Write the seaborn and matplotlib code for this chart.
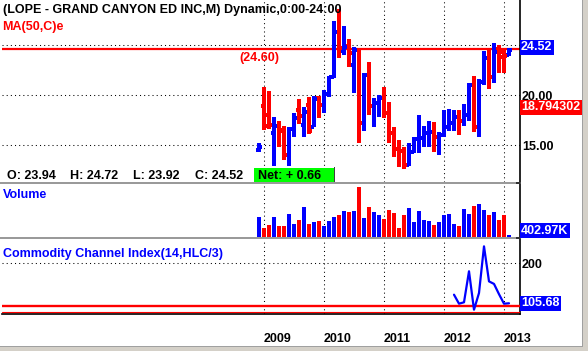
import numpy as np
import pandas as pd
import matplotlib
matplotlib.use("Agg")
import matplotlib.pyplot as plt
import seaborn as sns
from matplotlib.patches import Rectangle

# ---------------- data ----------------
months = pd.date_range("2008-12-01", periods=51, freq="MS")
opens = [14.5, 18.9, 18.0, 16.2, 16.9, 16.5, 14.0, 16.6, 18.5, 17.0,
         19.0, 16.8, 19.7, 19.0, 20.1, 21.8, 26.3, 24.4, 24.9, 23.0,
         24.5, 17.2, 22.0, 18.9, 19.2, 19.7, 18.2, 16.2, 14.6, 14.4,
         13.0, 14.3, 15.6, 15.7, 16.2, 16.3, 15.8, 16.0, 16.8, 17.2,
         17.8, 17.4, 18.0, 21.0, 16.8, 21.3, 23.7, 21.8, 24.6, 24.3, 23.94]
highs = [15.2, 20.8, 20.4, 17.8, 17.4, 16.9, 16.8, 18.2, 19.6, 18.8,
         19.8, 19.9, 19.9, 20.5, 21.9, 27.4, 28.5, 26.9, 25.6, 24.8,
         24.7, 22.2, 23.3, 19.7, 20.0, 20.8, 19.3, 16.8, 15.5, 14.8,
         15.2, 15.8, 18.0, 16.9, 17.4, 17.3, 16.3, 18.5, 18.6, 18.5,
         18.5, 19.1, 21.2, 21.9, 21.6, 24.4, 24.6, 25.2, 25.0, 24.6, 24.72]
lows = [14.3, 16.5, 16.6, 12.9, 14.8, 13.5, 12.9, 15.8, 17.1, 15.8,
        16.1, 16.8, 17.7, 18.2, 19.8, 21.7, 23.7, 24.0, 22.8, 20.2,
        15.2, 16.4, 18.0, 16.8, 17.8, 17.7, 15.2, 13.8, 12.8, 12.6,
        12.9, 14.2, 14.2, 14.8, 14.8, 14.3, 14.0, 15.8, 16.4, 16.4,
        16.0, 16.9, 17.4, 16.3, 15.8, 21.0, 20.6, 21.2, 22.2, 22.2, 23.92]
closes = [14.8, 16.9, 17.0, 16.9, 16.4, 14.0, 16.6, 17.7, 17.9, 18.3,
          16.4, 19.6, 19.0, 20.1, 21.8, 26.3, 24.7, 24.8, 24.2, 24.5,
          17.2, 22.0, 18.9, 19.2, 19.7, 18.2, 16.2, 14.6, 14.4, 13.0,
          14.3, 15.6, 15.7, 16.2, 16.3, 15.8, 16.0, 16.8, 17.2, 17.8,
          17.4, 18.0, 21.0, 16.8, 21.3, 23.7, 21.8, 24.3, 23.8, 23.86, 24.52]
volume_m = [4.0, 1.8, 2.3, 4.0, 2.2, 2.2, 4.6, 2.6, 3.3, 6.0,
            2.6, 3.0, 3.2, 2.2, 3.2, 4.0, 4.4, 5.2, 5.0, 5.2,
            10.0, 3.8, 6.0, 5.0, 4.4, 3.6, 5.3, 4.7, 1.8, 4.3,
            5.8, 3.0, 5.2, 3.4, 3.2, 2.3, 3.0, 4.4, 4.6, 2.6,
            2.2, 5.6, 4.6, 6.2, 6.6, 5.4, 4.4, 5.0, 3.4, 4.4, 0.403]
cci = [np.nan] * 39 + [125.8, 104.7, 108.0, 180.6, 90.6, 129.7,
                       239.0, 157.0, 151.0, 127.0, 104.7, 105.68]
price_ticks = [15, 20, 25]
cci_ticks = [200]
hline_level = 24.60
ma_value = 18.794302
last_volume_label = "402.97K"
cci_levels = [100, 85]

title = "(LOPE - GRAND CANYON ED INC,M) Dynamic,0:00-24:00"
ma_label = "MA(50,C)e"
info_items = ["O: 23.94", "H: 24.72", "L: 23.92", "C: 24.52"]
net_label = "Net: + 0.66"

BLUE, RED, GREEN = "#0000ff", "#ff0000", "#00ff00"

# ---------------- style ----------------
sns.set_style("white")
plt.rcParams['font.family'] = ['Liberation Sans', 'DejaVu Sans']
plt.rcParams['font.weight'] = 'bold'
FS = 9

W, H = 588, 351
fig = plt.figure(figsize=(W / 100, H / 100), dpi=100)
fig.patch.set_facecolor("white")


def frect(x0, y0, x1, y1):
    return [x0 / W, 1 - y1 / H, (x1 - x0) / W, (y1 - y0) / H]


def fpatch(x0, y0, x1, y1, color, z=1):
    fig.add_artist(Rectangle((x0 / W, 1 - y1 / H), (x1 - x0) / W, (y1 - y0) / H,
                             transform=fig.transFigure, facecolor=color,
                             edgecolor="none", zorder=z))


def ftext(x, yc, s, color="black", z=4):
    fig.text(x / W, 1 - (yc + 4.3) / H, s, color=color, fontsize=FS,
             va="baseline", ha="left", fontweight="bold", zorder=z)


ax_p = fig.add_axes(frect(2, 0, 520, 181.5))
ax_v = fig.add_axes(frect(2, 184, 520, 236.7))
ax_c = fig.add_axes(frect(2, 239, 520, 314))

x = np.arange(len(months))
year_idx = [i for i, m in enumerate(months) if m.month == 1]
year_labels = [str(months[i].year) for i in year_idx]
cols = [BLUE if c >= o else RED for o, c in zip(opens, closes)]

xlim = ((2 - 259) / 5, (520 - 259) / 5)
PX = 10.06
dotted = (0, (1, 3))

for ax in (ax_p, ax_v, ax_c):
    ax.set_xlim(*xlim)
    for s in ax.spines.values():
        s.set_visible(False)
    ax.spines["right"].set_visible(True)
    ax.spines["right"].set_color("black")
    ax.spines["right"].set_linewidth(1.2)
    ax.set_xticks(year_idx)
    ax.grid(True, axis="x", color="black", lw=0.75, linestyle=dotted)
    ax.tick_params(axis="x", length=0, labelbottom=False)
    ax.set_facecolor("white")

# ---- price panel ----
ax_p.set_ylim(20 - (181.5 - 95) / PX, 20 + 95 / PX)
ax_p.vlines(x, lows, highs, colors=cols, lw=1.5, antialiased=False, zorder=3)
ax_p.hlines(opens, x - 0.6, x, colors=cols, lw=1.5, antialiased=False, zorder=3)
ax_p.hlines(closes, x, x + 0.6, colors=cols, lw=1.5, antialiased=False, zorder=3)
ax_p.axhline(hline_level, color=RED, lw=1.6, zorder=2)
ax_p.set_yticks(price_ticks, labels=[f"{t:.2f}" for t in price_ticks])
ax_p.yaxis.tick_right()
ax_p.tick_params(axis="y", length=0, pad=1.5, labelsize=FS, labelcolor="black")
ax_p.grid(True, axis="y", color="black", lw=0.75, linestyle=dotted)
ax_p.text(0.458, hline_level - 0.9, f"({hline_level:.2f})", transform=ax_p.get_yaxis_transform(),
          color=RED, fontsize=FS, ha="left", va="center", fontweight="bold")

box = dict(boxstyle="square,pad=0.12", ec="none")
ax_p.annotate(f"{closes[-1]:.2f}", xy=(1, closes[-1] + 0.25), xycoords=("axes fraction", "data"),
              xytext=(1, 0), textcoords="offset pixels", ha="left", va="center",
              color="white", fontsize=FS, bbox={**box, "fc": BLUE}, annotation_clip=False, zorder=5)
ax_p.annotate(f"{ma_value:.6f}", xy=(1, ma_value), xycoords=("axes fraction", "data"),
              xytext=(1, 0), textcoords="offset pixels", ha="left", va="center",
              color="white", fontsize=FS, bbox={**box, "fc": RED}, annotation_clip=False, zorder=5)

# ---- volume panel ----
ax_v.set_ylim(0, (236.7 - 184) * 0.2)
ax_v.vlines(x, 0, volume_m, colors=cols, lw=1.5, antialiased=False, zorder=3)
ax_v.set_yticks([])
ax_v.annotate(last_volume_label, xy=(1, 0.11), xycoords="axes fraction",
              xytext=(1, 0), textcoords="offset pixels", ha="left", va="center",
              color="white", fontsize=FS, bbox={**box, "fc": BLUE}, annotation_clip=False)

# ---- CCI panel ----
cci_df = pd.DataFrame({"i": x, "cci": cci})
sns.lineplot(data=cci_df, x="i", y="cci", ax=ax_c, color=BLUE, lw=1.6, zorder=4)
ax_c.set_xlim(*xlim)
cpx = 42.7 / 100
ax_c.set_ylim(100 - (314 - 305.7) / cpx, 100 + (305.7 - 239) / cpx)
ax_c.axhline(cci_levels[0], color=RED, lw=1.7, zorder=3)
ax_c.axhline(cci_levels[1], color=RED, lw=0.8, zorder=3)
ax_c.spines["bottom"].set_visible(True)
ax_c.spines["bottom"].set_color("black")
ax_c.spines["bottom"].set_linewidth(1.2)
ax_c.set_yticks(cci_ticks, labels=[str(t) for t in cci_ticks])
ax_c.yaxis.tick_right()
ax_c.tick_params(axis="y", length=0, pad=1.5, labelsize=FS, labelcolor="black")
ax_c.grid(True, axis="y", color="black", lw=0.75, linestyle=dotted)
ax_c.set_xlabel("")
ax_c.set_ylabel("")
ax_c.set_xticks(year_idx, labels=year_labels)
ax_c.tick_params(axis="x", length=0, labelbottom=True, pad=13.5, labelsize=FS, labelcolor="black")
for lab in ax_c.get_xticklabels():
    lab.set_ha("left")
ax_c.annotate(f"{cci[-1]:.2f}", xy=(1, cci[-1]), xycoords=("axes fraction", "data"),
              xytext=(1, 0), textcoords="offset pixels", ha="left", va="center",
              color="white", fontsize=FS, bbox={**box, "fc": BLUE}, annotation_clip=False)

# ---- overlays: panel separators, info box, frame ----
fpatch(0, 181.5, 520, 184, "#9a9a9a", 2)
fpatch(0, 181.5, 520, 182.3, "#555555", 2)
fpatch(0, 236.5, 520, 239, "#9a9a9a", 2)
fpatch(0, 236.5, 520, 237.3, "#555555", 2)
fpatch(516, 181.5, 520, 184, "#333333", 2)
fpatch(516, 236.5, 520, 239, "#333333", 2)

fpatch(2, 166.5, 335, 181.5, "white", 3)
fpatch(2, 166.5, 335, 167.2, "#808080", 3)
fpatch(254, 167.5, 334, 181.5, GREEN, 3)
fpatch(334, 167.2, 335.2, 181.5, "#404040", 3)

fpatch(582, 0, 588, 351, "#d4d0c8", 2)
fpatch(582, 0, 583, 351, "#a0a0a0", 2)
fpatch(0, 346, 588, 351, "#d4d0c8", 2)
fpatch(0, 346, 583, 347, "#a0a0a0", 2)

ftext(2.5, 9, title)
ftext(2.5, 26, ma_label, color=RED)
ftext(3, 193.3, "Volume", color=BLUE)
ftext(3, 253, "Commodity Channel Index(14,HLC/3)", color=BLUE)
for xp, s in zip([7, 70.5, 133, 195], info_items):
    ftext(xp, 175, s)
ftext(258, 175, net_label)

fig.savefig("out.png", dpi=100, facecolor="white")
